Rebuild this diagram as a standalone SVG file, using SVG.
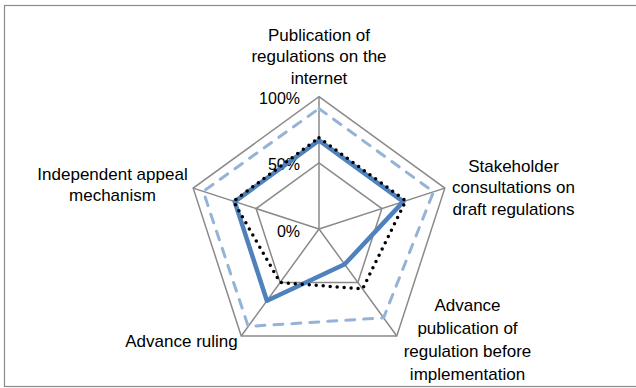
<svg xmlns="http://www.w3.org/2000/svg" width="636" height="388" viewBox="0 0 636 388">
<style>
.lbl{font-family:"Liberation Sans",Arial,sans-serif;font-size:17px;fill:#000}
.ax{font-family:"Liberation Sans",Arial,sans-serif;font-size:16px;fill:#000;text-anchor:end}
.grid{fill:none;stroke:#8a8a8a;stroke-width:1.5}
.s1{fill:none;stroke:#95B3D7;stroke-width:3;stroke-dasharray:9 9;stroke-linecap:round;stroke-linejoin:round}
.s2{fill:none;stroke:#4F81BD;stroke-width:4.5;stroke-linejoin:round}
.s3{fill:none;stroke:#000;stroke-width:3.5;stroke-dasharray:0 7;stroke-linecap:round;stroke-linejoin:round}
</style>
<rect x="0" y="0" width="636" height="388" fill="#fff"/>
<rect x="4.5" y="5.5" width="640" height="381" fill="none" stroke="#8a8a8a" stroke-width="1.2"/>
<g id="grid">
<polygon class="grid" points="319,96.7 444.83,188.12 396.77,336.03 241.23,336.03 193.17,188.12"/>
<polygon class="grid" points="319,162.85 381.91,208.56 357.88,282.52 280.12,282.52 256.09,208.56"/>
<path class="grid" d="M319,229L319,96.7M319,229L444.83,188.12M319,229L396.77,336.03M319,229L241.23,336.03M319,229L193.17,188.12"/>
</g>
<g id="axis-labels">
<text class="ax" x="300" y="103.5">100%</text>
<text class="ax" x="300" y="170">50%</text>
<text class="ax" x="300" y="236.5">0%</text>
</g>
<g id="series">
<polygon class="s1" points="319,108.61 433.5,191.8 383.55,317.84 248.23,326.4 203.23,191.39"/>
<polygon class="s2" points="319,140.36 403.31,201.61 344.66,264.32 266.9,300.71 234.69,201.61"/>
<polygon class="s3" points="319,137.71 405.82,200.79 362.55,288.94 280.12,282.52 233.44,201.2"/>
</g>
<g id="cat-top">
<text class="lbl" text-anchor="middle" x="319" y="40.6">Publication of</text>
<text class="lbl" text-anchor="middle" x="319" y="62.3">regulations on the</text>
<text class="lbl" text-anchor="middle" x="319" y="84">internet</text>
</g>
<g id="cat-right">
<text class="lbl" text-anchor="middle" x="513.5" y="171.5">Stakeholder</text>
<text class="lbl" text-anchor="middle" x="513.5" y="193">consultations on</text>
<text class="lbl" text-anchor="middle" x="513.5" y="214.5">draft regulations</text>
</g>
<g id="cat-bottom-right">
<text class="lbl" text-anchor="middle" x="467.5" y="311">Advance</text>
<text class="lbl" text-anchor="middle" x="467.5" y="334">publication of</text>
<text class="lbl" text-anchor="middle" x="467.5" y="357">regulation before</text>
<text class="lbl" text-anchor="middle" x="467.5" y="380">implementation</text>
</g>
<g id="cat-bottom-left">
<text class="lbl" text-anchor="middle" x="181.5" y="347">Advance ruling</text>
</g>
<g id="cat-left">
<text class="lbl" text-anchor="middle" x="112.5" y="179.5">Independent appeal</text>
<text class="lbl" text-anchor="middle" x="112.5" y="201">mechanism</text>
</g>
</svg>
